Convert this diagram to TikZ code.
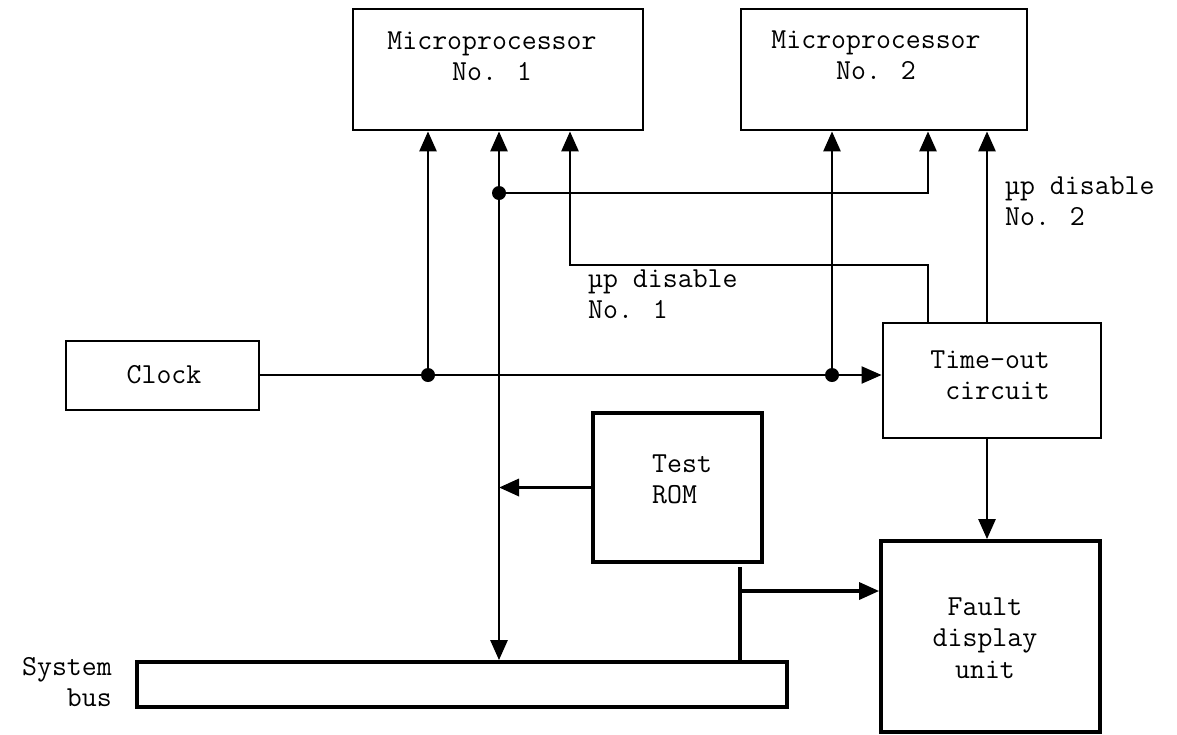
\documentclass[tikz,border=0pt]{standalone}
\usepackage{fontspec}
\usetikzlibrary{arrows.meta}
\begin{document}
\begin{tikzpicture}[x=1pt,y=-1pt,
  box/.style={draw, line width=2.8pt, inner sep=0, rectangle},
  heavy/.style={draw, line width=3.8pt, inner sep=0, rectangle},
  wire/.style={line width=2.7pt},
  thin wire/.style={line width=2.1pt},
  tip/.tip={Triangle[length=20pt,width=17pt]},
  feed/.style={wire, -tip},
  lbl/.style={font=\ttfamily\fontsize{29}{31.5}\selectfont, inner sep=0},
  junction/.style={circle, fill, inner sep=0, minimum size=14pt}]
\useasboundingbox (0,0) rectangle (1177,734);

% blocks
\node[box, minimum width=290, minimum height=121] (mp1) at (498,69.5) {};
\node[box, minimum width=286, minimum height=121] (mp2) at (884,69.5) {};
\node[box, minimum width=193, minimum height=69] (clk) at (162.5,375.5) {};
\node[box, minimum width=218, minimum height=115] (to) at (992,380.5) {};
\node[heavy, minimum width=169, minimum height=149] (rom) at (677.5,487.5) {};
\node[heavy, minimum width=219, minimum height=191] (fdu) at (990.5,636.5) {};
\node[heavy, minimum width=650, minimum height=45] (bus) at (462,684.5) {};

% block texts (base anchor sits on the last line)
\node[lbl, anchor=base, align=center] (mp1t) at (492,80.5) {Microprocessor\\No. 1};
\node[lbl, anchor=base, align=center] (mp2t) at (876,79.5) {Microprocessor\\No. 2};
\node[lbl, anchor=base] (clkt) at (164,383) {Clock};
\node[lbl, anchor=base east, align=right] (tot) at (1050,399.5) {Time-out\\circuit};
\node[lbl, anchor=base west, align=left] (romt) at (652,503.5) {Test\\ROM};
\node[lbl, anchor=base, align=center] (fdut) at (985,678) {Fault\\display\\unit};
\node[lbl, anchor=base east, align=right] (bust) at (112,706.5) {System\\bus};
\node[lbl, anchor=base west, align=left] (dis1) at (588,318.5) {µp disable\\No. 1};
\node[lbl, anchor=base west, align=left] (dis2) at (1005,225.5) {µp disable\\No. 2};

% junctions and bends
\node[junction] (jA) at (428,375) {};
\node[junction] (jB) at (832,375) {};
\node[junction] (jC) at (499,193) {};
\coordinate (k1) at (928,0);
\coordinate (k2) at (570,265);
\coordinate (k3) at (987,0);
\coordinate (k5) at (740,567);
\coordinate (k6) at (740,591);

% clock distribution
\draw[thin wire, -tip] (clk.east |- jA.center) -- (jA.center -| to.west);
\draw[feed] (jA.center) -- (jA.center |- mp1.south);
\draw[feed] (jB.center) -- (jB.center |- mp2.south);

% shared line between the processors and the system bus
\draw[wire, tip-tip] (jC.center |- mp1.south) -- (jC.center |- bus.north);
\draw[feed] (jC.center) -- (jC.center -| k1) -- (k1 |- mp2.south);

% disable lines from the time-out circuit
\draw[feed] (k1 |- to.north) -- (k1 |- k2) -- (k2) -- (k2 |- mp1.south);
\draw[feed] (k3 |- to.north) -- (k3 |- mp2.south);
\draw[feed] (k3 |- to.south) -- (k3 |- fdu.north);

% test ROM and fault display feeds
\draw[feed, line width=3.4pt] (rom.west) -- (rom.west -| jC.center);
\draw[heavy] (k5) -- (k5 |- bus.north);
\draw[feed, line width=3.4pt] (k6) -- (k6 -| fdu.west);
\end{tikzpicture}
\end{document}
